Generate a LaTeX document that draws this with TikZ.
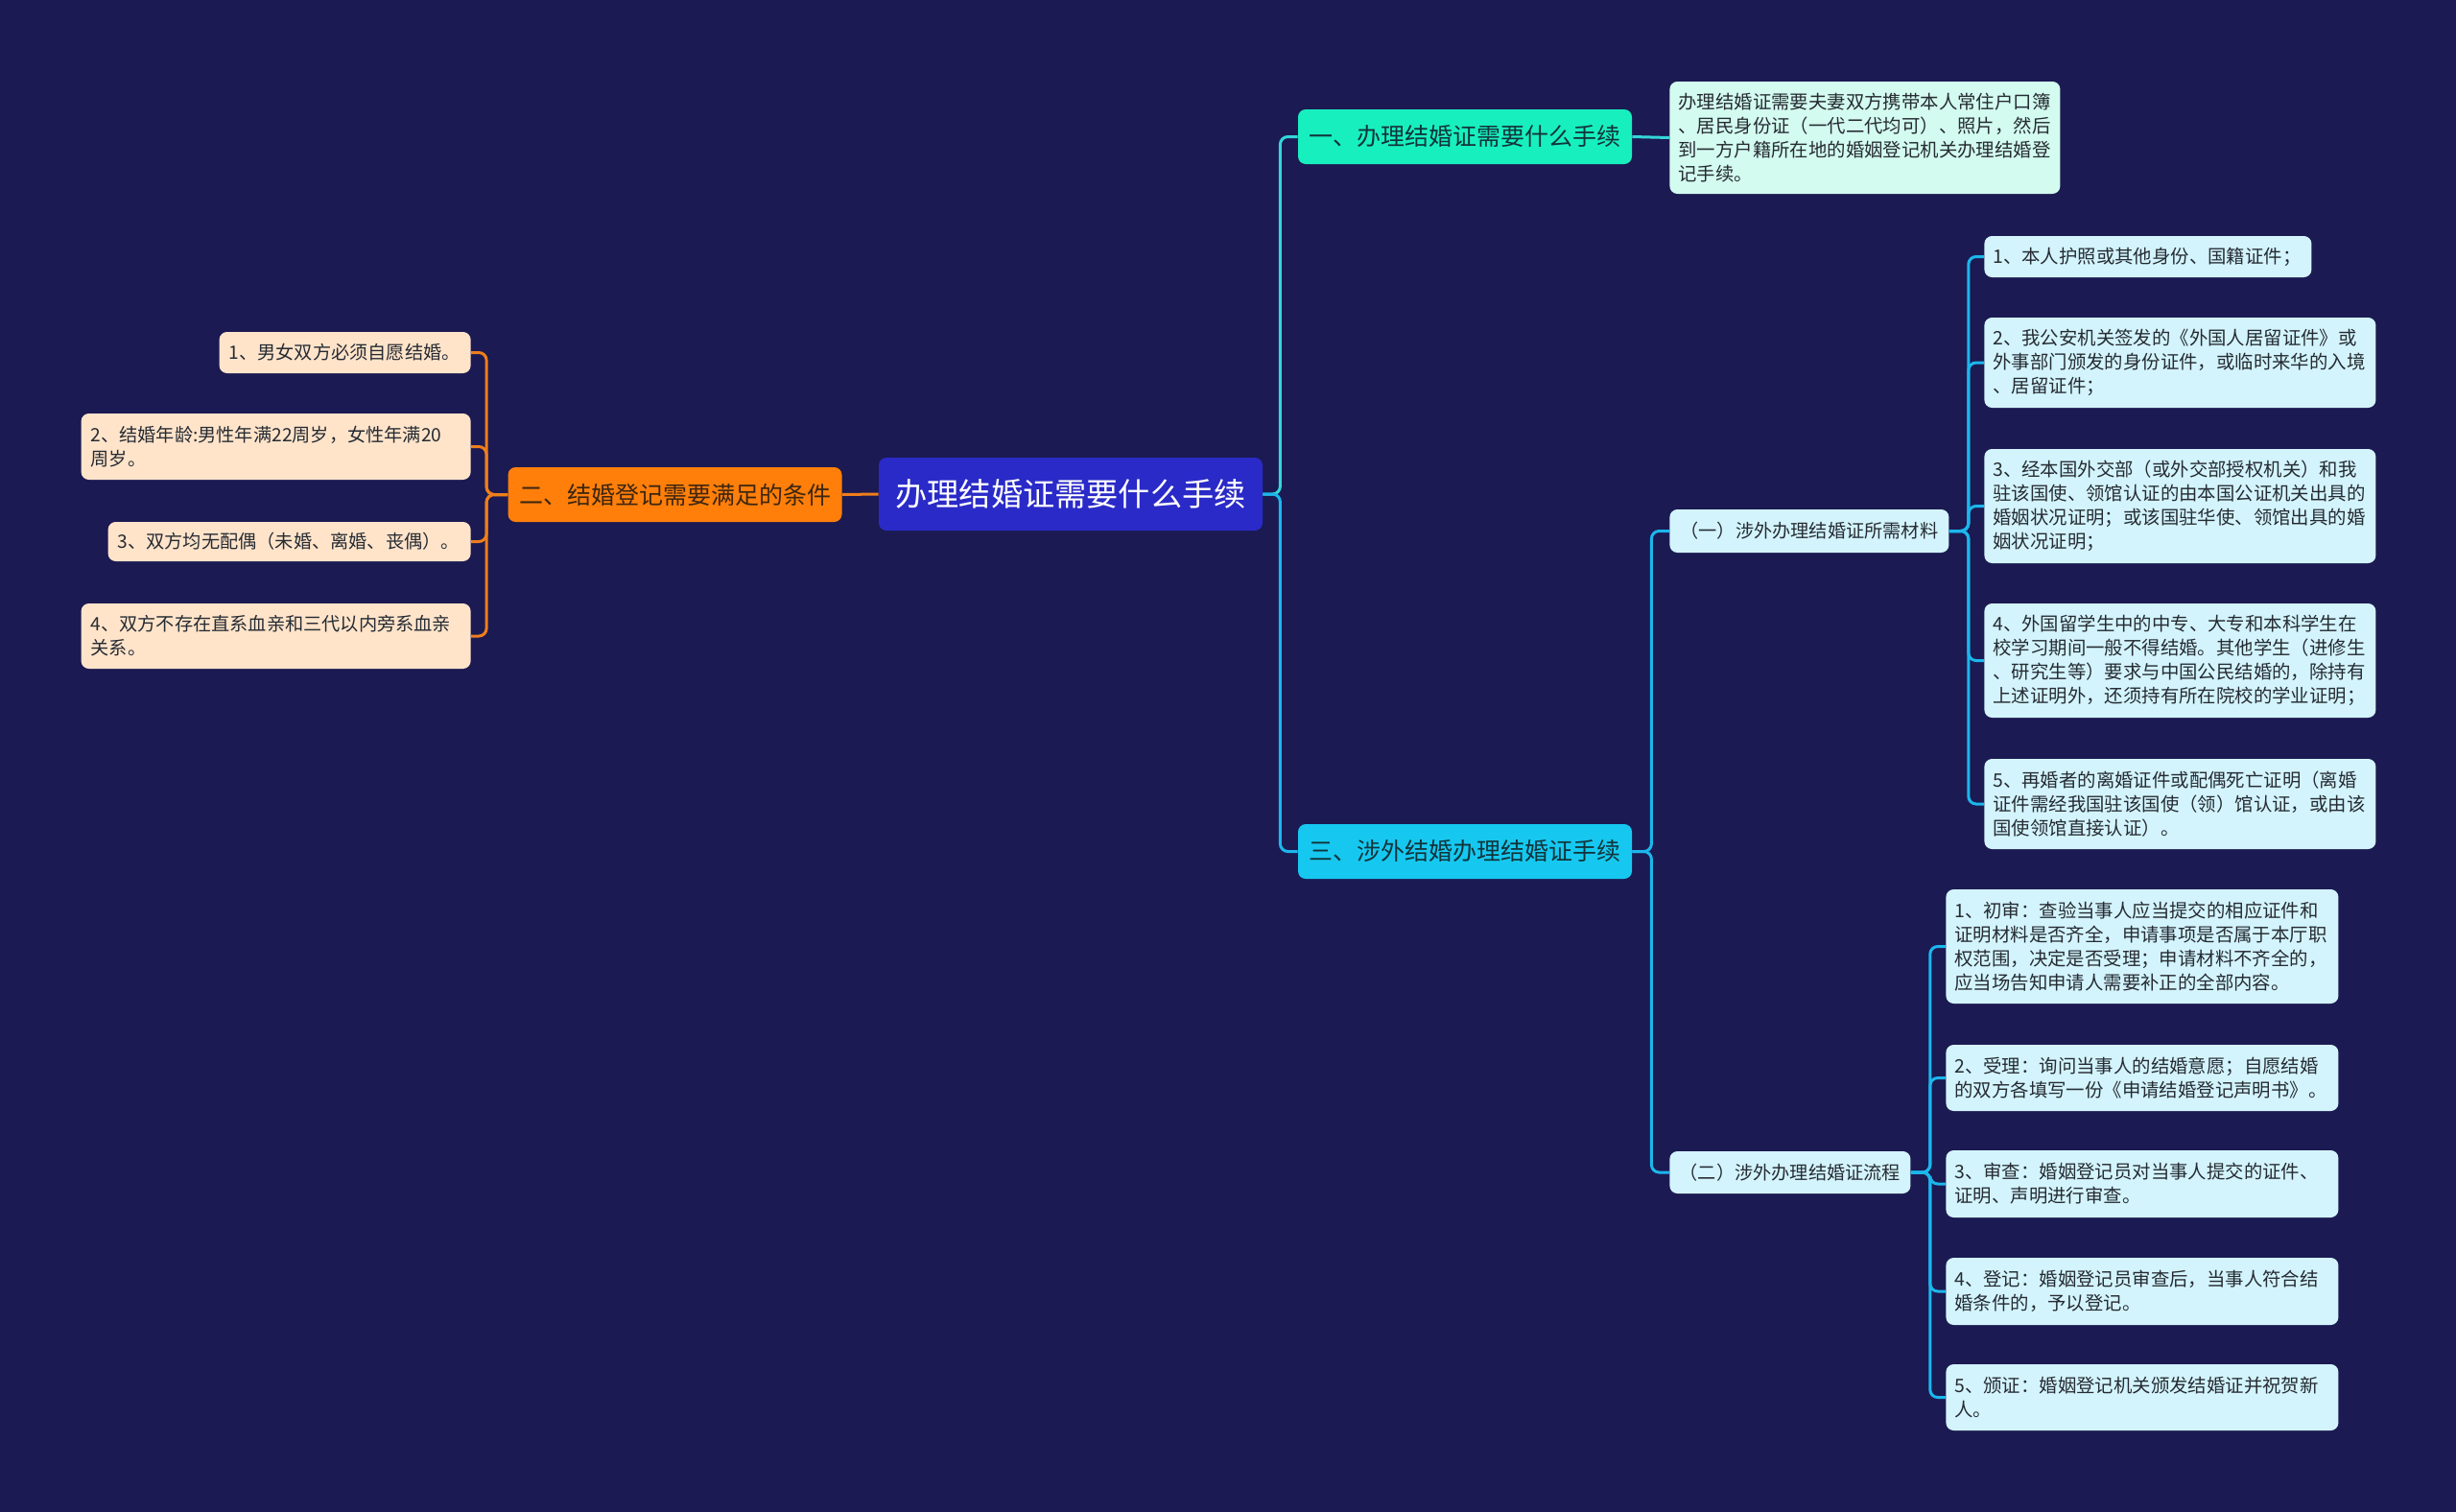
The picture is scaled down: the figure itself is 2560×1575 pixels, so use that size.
\documentclass[tikz,border=0pt]{standalone}
\usepackage{fontspec}
\setmainfont{Noto Sans CJK SC}
\usepackage{tikz}

\begin{document}
\begin{tikzpicture}[x=0.5pt,y=-0.5pt,
  box/.style={rounded corners=4pt,inner xsep=5pt,inner ysep=2pt},
  leafL/.style={box,fill=peach,text=ink,align=left,font=\fontsize{9.6}{12.5}\selectfont},
  leafR/.style={box,inner xsep=4.5pt,fill=ice,text=ink,align=left,text width=195pt,font=\fontsize{9.7}{12.5}\selectfont},
  leafP/.style={box,inner xsep=4.5pt,fill=ice,text=ink,align=left,text width=195.5pt,font=\fontsize{9.7}{12.5}\selectfont},
  topic/.style={box,inner xsep=2pt,align=center,minimum width=174pt,minimum height=28.5pt,text=deep,font=\fontsize{12.5}{15}\selectfont},
  lnO/.style={draw=wire,line width=1.5pt,rounded corners=4pt},
  lnM/.style={draw=mintline,line width=1.5pt,rounded corners=4pt},
  lnC/.style={draw=cyanline,line width=1.5pt,rounded corners=4pt}]
\definecolor{night}{HTML}{1B1A52}
\definecolor{royal}{HTML}{2A2AC8}
\definecolor{amber}{HTML}{FF7F0A}
\definecolor{peach}{HTML}{FFE4CA}
\definecolor{wire}{HTML}{EE7E1C}
\definecolor{mint}{HTML}{18EFBF}
\definecolor{mintpale}{HTML}{D3FBEF}
\definecolor{sky}{HTML}{16C8F0}
\definecolor{ice}{HTML}{D3F4FC}
\definecolor{mintline}{HTML}{34D6D8}
\definecolor{cyanline}{HTML}{1CB6EC}
\definecolor{ink}{HTML}{262B33}
\definecolor{deep}{HTML}{12343A}
\definecolor{brown}{HTML}{3E2610}
\useasboundingbox (0,0) rectangle (2560,1575);
\fill[night] (-10,-10) rectangle (2570,1585);
% centre and first level
\node[box,fill=royal,text=white,minimum width=200pt,minimum height=38pt,font=\fontsize{16.6}{20}\selectfont] (root) at (1116,515) {办理结婚证需要什么手续};
\node[topic,fill=amber,text=brown] (cond) at (703.5,515.5) {二、结婚登记需要满足的条件};
\node[topic,fill=mint] (one) at (1527,142.5) {一、办理结婚证需要什么手续};
\node[topic,fill=sky] (three) at (1527,887.5) {三、涉外结婚办理结婚证手续};
% left leaves
\node[leafL,text width=121pt,minimum height=21.5pt,anchor=east] (c1) at (491,367.5) {1、男女双方必须自愿结婚。};
\node[leafL,text width=193pt,minimum height=34.5pt,anchor=east] (c2) at (491,465.5) {2、结婚年龄:男性年满22周岁，女性年满20\\周岁。};
\node[leafL,text width=179pt,minimum height=20.5pt,anchor=east] (c3) at (491,564.5) {3、双方均无配偶（未婚、离婚、丧偶）。};
\node[leafL,text width=193pt,minimum height=34pt,anchor=east] (c4) at (491,663) {4、双方不存在直系血亲和三代以内旁系血亲\\关系。};
% right side
\node[leafR,fill=mintpale,text width=194.5pt,minimum height=58.5pt,anchor=west] (oneTxt) at (1740,143.5) {办理结婚证需要夫妻双方携带本人常住户口簿\\、居民身份证（一代二代均可）、照片，然后\\到一方户籍所在地的婚姻登记机关办理结婚登\\记手续。};
\node[box,fill=ice,text=ink,align=center,text width=135.5pt,minimum height=22.5pt,font=\fontsize{9.6}{12.5}\selectfont,anchor=west] (subA) at (1740,553.5) {（一）涉外办理结婚证所需材料};
\node[box,fill=ice,text=ink,align=center,text width=115.5pt,minimum height=22pt,font=\fontsize{9.6}{12.5}\selectfont,anchor=west] (subB) at (1740,1222) {（二）涉外办理结婚证流程};
\node[leafR,text width=161.5pt,minimum height=21.5pt,anchor=west] (r1) at (2068,267.5) {1、本人护照或其他身份、国籍证件；};
\node[leafR,minimum height=47pt,anchor=west] (r2) at (2068,378) {2、我公安机关签发的《外国人居留证件》或\\外事部门颁发的身份证件，或临时来华的入境\\、居留证件；};
\node[leafR,minimum height=59.5pt,anchor=west] (r3) at (2068,527.5) {3、经本国外交部（或外交部授权机关）和我\\驻该国使、领馆认证的由本国公证机关出具的\\婚姻状况证明；或该国驻华使、领馆出具的婚\\姻状况证明；};
\node[leafR,minimum height=59.5pt,anchor=west] (r4) at (2068,688.5) {4、外国留学生中的中专、大专和本科学生在\\校学习期间一般不得结婚。其他学生（进修生\\、研究生等）要求与中国公民结婚的，除持有\\上述证明外，还须持有所在院校的学业证明；};
\node[leafR,minimum height=47pt,anchor=west] (r5) at (2068,838) {5、再婚者的离婚证件或配偶死亡证明（离婚\\证件需经我国驻该国使（领）馆认证，或由该\\国使领馆直接认证）。};
\node[leafP,minimum height=59.5pt,anchor=west] (p1) at (2028,986.5) {1、初审：查验当事人应当提交的相应证件和\\证明材料是否齐全，申请事项是否属于本厅职\\权范围，决定是否受理；申请材料不齐全的，\\应当场告知申请人需要补正的全部内容。};
\node[leafP,minimum height=34.5pt,anchor=west] (p2) at (2028,1123.5) {2、受理：询问当事人的结婚意愿；自愿结婚\\的双方各填写一份《申请结婚登记声明书》。};
\node[leafP,minimum height=35pt,anchor=west] (p3) at (2028,1234) {3、审查：婚姻登记员对当事人提交的证件、\\证明、声明进行审查。};
\node[leafP,minimum height=35pt,anchor=west] (p4) at (2028,1346) {4、登记：婚姻登记员审查后，当事人符合结\\婚条件的，予以登记。};
\node[leafP,minimum height=34.5pt,anchor=west] (p5) at (2028,1456.5) {5、颁证：婚姻登记机关颁发结婚证并祝贺新\\人。};
% connectors
\draw[lnO] (root.west) -- (cond.east);
\foreach \n in {c1,c2,c3,c4}
  \draw[lnO] (cond.west) -- ++(-22,0) |- (\n.east);
\draw[lnM] (root.east) -- ++(18,0) |- (one.west);
\draw[lnC] (root.east) -- ++(18,0) |- (three.west);
\draw[lnM] (one.east) -- (oneTxt.west);
\draw[lnC] (three.east) -- ++(20,0) |- (subA.west);
\draw[lnC] (three.east) -- ++(20,0) |- (subB.west);
\foreach \n in {r1,r2,r3,r4,r5}
  \draw[lnC] (subA.east) -- ++(20,0) |- (\n.west);
\foreach \n in {p1,p2,p3,p4,p5}
  \draw[lnC] (subB.east) -- ++(20,0) |- (\n.west);
\end{tikzpicture}
\end{document}
